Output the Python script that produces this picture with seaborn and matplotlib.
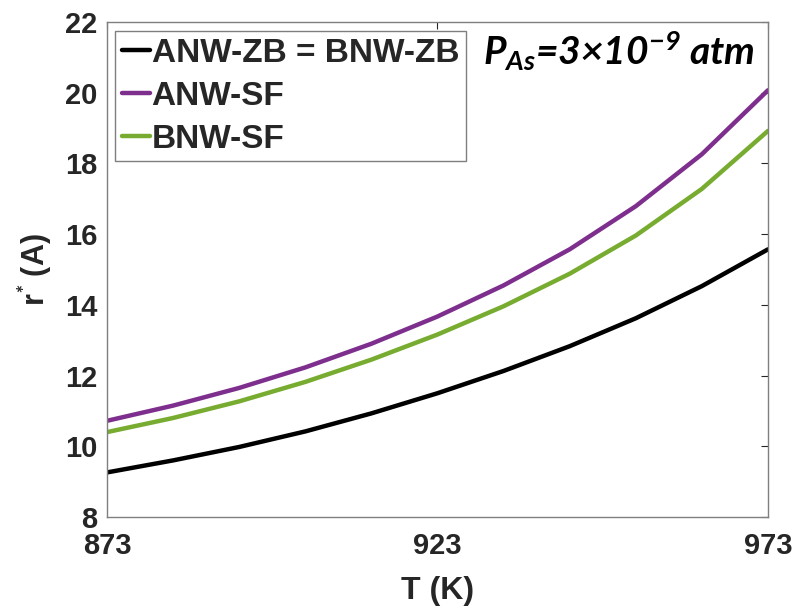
import matplotlib
matplotlib.use("Agg")
import matplotlib.pyplot as plt
import pandas as pd
import seaborn as sns

# Critical radius r* versus growth temperature
temperature_k = [873, 883, 893, 903, 913, 923, 933, 943, 953, 963, 973]
r_zb = [9.26, 9.60, 9.98, 10.42, 10.93, 11.50, 12.13, 12.83, 13.62, 14.53, 15.57]
r_anw_sf = [10.72, 11.15, 11.65, 12.23, 12.90, 13.67, 14.55, 15.57, 16.79, 18.26, 20.07]
r_bnw_sf = [10.40, 10.80, 11.27, 11.82, 12.45, 13.16, 13.96, 14.88, 15.96, 17.28, 18.92]

series_names = ["ANW-ZB = BNW-ZB", "ANW-SF", "BNW-SF"]
series_colors = ["#000000", "#7E2F8E", "#77AC30"]
x_ticks = [873, 923, 973]
y_ticks = [8, 10, 12, 14, 16, 18, 20, 22]

df = pd.concat(
    [
        pd.DataFrame({"T": temperature_k, "r": vals, "series": name})
        for name, vals in zip(series_names, [r_zb, r_anw_sf, r_bnw_sf])
    ],
    ignore_index=True,
)

sns.set_style("white")
plt.rcParams["font.family"] = ["Liberation Sans", "DejaVu Sans"]
plt.rcParams["font.weight"] = "bold"
plt.rcParams["axes.labelweight"] = "bold"
plt.rcParams["mathtext.fontset"] = "custom"
plt.rcParams["mathtext.bf"] = "Liberation Sans:bold"
plt.rcParams["mathtext.rm"] = "Lato:bold:italic"
plt.rcParams["mathtext.it"] = "Lato:bold:italic"

fig = plt.figure(figsize=(7.96, 6.06), dpi=100)
ax = fig.add_axes([0.1344, 0.1469, 0.8304, 0.8168])

sns.lineplot(
    data=df, x="T", y="r", hue="series", hue_order=series_names,
    palette=dict(zip(series_names, series_colors)),
    linewidth=3.2, ax=ax, sort=True,
)

ax.set_xlim(873, 973)
ax.set_ylim(8, 22)
ax.set_xticks(x_ticks)
ax.set_yticks(y_ticks)
ax.tick_params(axis="both", direction="in", length=5, width=0.8,
               top=True, right=True, labelsize=21,
               color="#262626", labelcolor="#262626")
ax.tick_params(axis="x", pad=11)
ax.tick_params(axis="y", pad=7)
for sp in ax.spines.values():
    sp.set_color("#7f7f7f")
    sp.set_linewidth(1.0)

ax.set_xlabel("T (K)", fontsize=23, color="#262626", labelpad=11)
ax.set_ylabel(r"$\mathbf{r}^{*}$ (A)", fontsize=22, color="#262626", labelpad=8)

leg = ax.legend(
    loc="upper left", bbox_to_anchor=(0.0121, 0.982), borderaxespad=0,
    prop={"weight": "bold", "size": 24}, handlelength=0.85,
    handletextpad=0.05, borderpad=0.2, labelspacing=0.36,
    frameon=True, fancybox=False, framealpha=1, edgecolor="#7f7f7f",
)
leg.get_frame().set_linewidth(1.0)
for h in leg.get_lines():
    h.set_linewidth(3.2)

ax.text(0.98, 0.913, r"$P_{As}$=3×10$^{-9}$ atm", transform=ax.transAxes,
        ha="right", va="baseline", fontsize=28, family="Lato",
        fontweight="bold", fontstyle="italic", color="black")

fig.savefig("out.png", dpi=100)
